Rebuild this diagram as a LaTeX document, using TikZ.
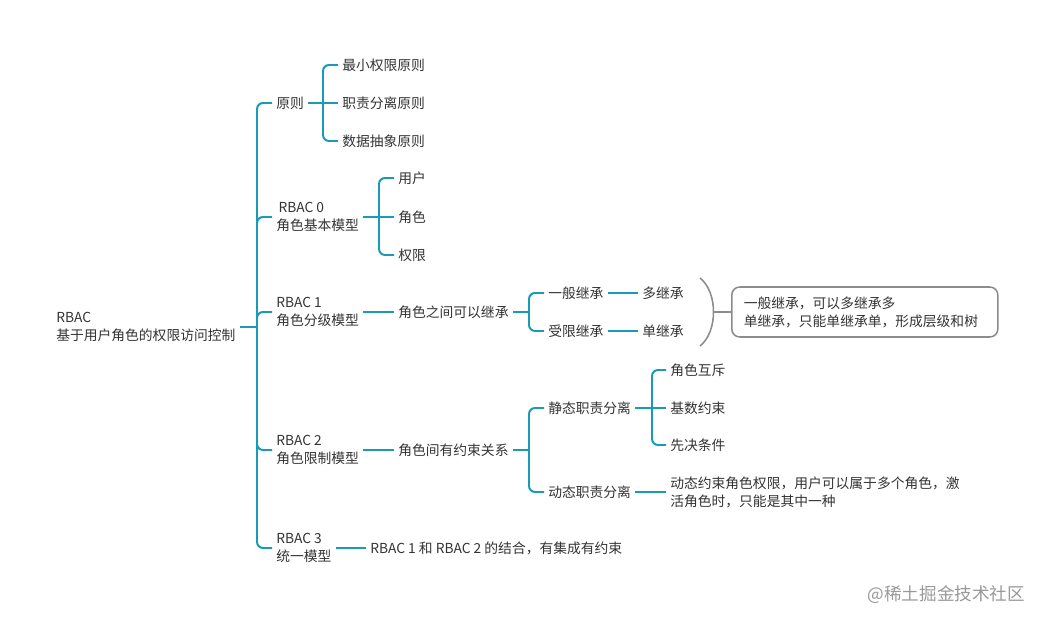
\documentclass[tikz,border=0pt]{standalone}
\usepackage{fontspec}
\setmainfont{Noto Sans CJK SC}
\usepackage{xcolor}
\usetikzlibrary{calc}
\definecolor{teal1}{HTML}{1A9BB5}
\definecolor{ink}{HTML}{333333}
\definecolor{frame}{HTML}{8C8C8C}

\begin{document}
\begin{tikzpicture}[x=0.025cm, y=-0.025cm,
  txt/.style={anchor=west, inner xsep=0.1cm, inner ysep=1pt, align=left, text=ink,
    font=\fontsize{9.8}{12.8}\selectfont},
  link/.style={draw=teal1, line width=1.4pt, rounded corners=0.15cm}]
\useasboundingbox (0,0) rectangle (1046,622);

\node[txt] (rbac) at (52,327) {RBAC\\基于用户角色的权限访问控制};
\node[txt] (yz) at (272,103) {原则};
\node[txt] (r0) at (272,217) {\,RBAC 0\\角色基本模型};
\node[txt] (r1) at (272,312) {RBAC 1\\角色分级模型};
\node[txt] (r2) at (272,450) {RBAC 2\\角色限制模型};
\node[txt] (r3) at (272,548) {RBAC 3\\统一模型};

\node[txt] (zx) at (338,65) {最小权限原则};
\node[txt] (zz) at (338,103) {职责分离原则};
\node[txt] (sj) at (338,141) {数据抽象原则};

\node[txt] (yh) at (394,178) {用户};
\node[txt] (js) at (394,217) {角色};
\node[txt] (qx) at (394,255) {权限};

\node[txt] (jc) at (394,312) {角色之间可以继承};
\node[txt] (yb) at (544,293) {一般继承};
\node[txt] (sx) at (544,331) {受限继承};
\node[txt] (dj) at (638,293) {多继承};
\node[txt] (dan) at (638,331) {单继承};
\node[txt, draw=frame, line width=1.1pt, rounded corners=0.2cm, inner xsep=0.3cm,
  text width=6.05cm, minimum height=1.25cm] (note) at (731,312)
  {一般继承，可以多继承多\\单继承，只能单继承单，形成层级和树};

\node[txt] (ys) at (394,450) {角色间有约束关系};
\node[txt] (jt) at (544,408) {静态职责分离};
\node[txt] (dt) at (544,492) {动态职责分离};
\node[txt] (hc) at (666,370) {角色互斥};
\node[txt] (jy) at (666,408) {基数约束};
\node[txt] (xj) at (666,445) {先决条件};
\node[txt] (dy) at (666,492) {动态约束角色权限，用户可以属于多个角色，激\\活角色时，只能是其中一种};

\node[txt] (zh) at (366,548) {RBAC 1 和 RBAC 2 的结合，有集成有约束};

\node[anchor=east, text=black!40, font=\fontsize{12.5}{14}\selectfont] (wm) at (1030,595) {@稀土掘金技术社区};

\coordinate (t) at (257,327);
\draw[link] (rbac.east) -- (t);
\foreach \k in {yz,r0,r1,r2,r3}
  \draw[link] (t) |- (\k.west);

\coordinate (b1) at (323,103);
\draw[link] (yz.east) -- (zz.west);
\draw[link] (b1) |- (zx.west);
\draw[link] (b1) |- (sj.west);

\coordinate (b2) at (379,217);
\draw[link] (r0.east) -- (js.west);
\draw[link] (b2) |- (yh.west);
\draw[link] (b2) |- (qx.west);

\coordinate (b3) at (529,312);
\draw[link] (r1.east) -- (jc.west);
\draw[link] (jc.east) -- (b3);
\draw[link] (b3) |- (yb.west);
\draw[link] (b3) |- (sx.west);
\draw[link] (yb.east) -- (dj.west);
\draw[link] (sx.east) -- (dan.west);

\coordinate (k) at (713,312);
\draw[frame, line width=1.1pt] (700,278) .. controls (718,292) and (718,332) .. (700,346);
\draw[frame, line width=1.1pt] (k) -- (note.west);

\coordinate (b4) at (529,450);
\draw[link] (r2.east) -- (ys.west);
\draw[link] (ys.east) -- (b4);
\draw[link] (b4) |- (jt.west);
\draw[link] (b4) |- (dt.west);

\coordinate (b5) at (652,408);
\draw[link] (jt.east) -- (jy.west);
\draw[link] (b5) |- (hc.west);
\draw[link] (b5) |- (xj.west);
\draw[link] (dt.east) -- (dy.west);

\draw[link] (r3.east) -- (zh.west);
\end{tikzpicture}
\end{document}
